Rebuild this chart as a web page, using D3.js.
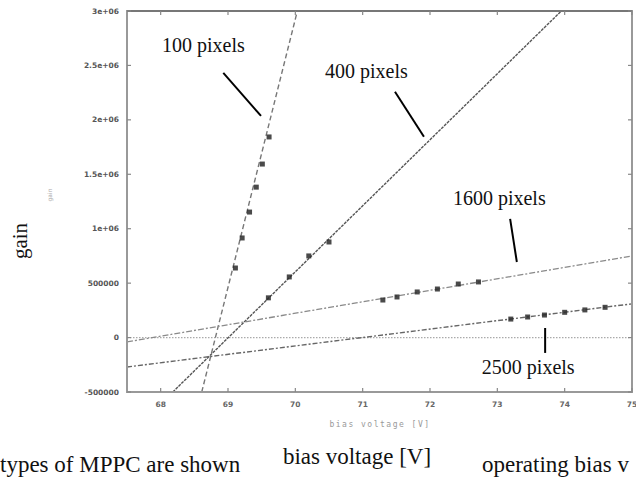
<!DOCTYPE html>
<html>
<head>
<meta charset="utf-8">
<script src="https://cdn.jsdelivr.net/npm/d3@7"></script>
<style>
  body { margin: 0; background: #fff; }
  svg { display: block; }
</style>
</head>
<body>
<svg id="chart" width="636" height="477"></svg>
<script>
// chart size
let width = 636;
let height = 477;
let margin = { top: 11, right: 4, bottom: 85, left: 127 };

// measured points (bias voltage [V], gain)
const pts100 = [[69.11, 639000], [69.21, 915000], [69.32, 1153000], [69.42, 1382000], [69.51, 1594000], [69.61, 1843000]];
const pts400 = [[69.6, 365000], [69.91, 557000], [70.2, 750000], [70.5, 878000]];
const pts1600 = [[71.3, 345000], [71.51, 373000], [71.81, 419000], [72.11, 446000], [72.42, 492000], [72.72, 511000]];
const pts2500 = [[73.2, 170000], [73.45, 189000], [73.7, 207000], [74.0, 232000], [74.3, 254000], [74.6, 278000]];

// fitted lines, two end points each
const fit100 = [[68.61, -500000], [70.03, 3000000]];
const fit400 = [[68.18, -500000], [73.95, 3000000]];
const fit1600 = [[67.5, -40000], [75, 750000]];
const fit2500 = [[67.5, -270000], [75, 310000]];

// ticks
const xTicks = [68, 69, 70, 71, 72, 73, 74, 75];
const yTicks = [-500000, 0, 500000, 1000000, 1500000, 2000000, 2500000, 3000000];
const yTickLabels = ["-500000", "0", "500000", "1e+06", "1.5e+06", "2e+06", "2.5e+06", "3e+06"];

// labels with pointer lines: text pos, pointer start, pointer end
const labels = [
  { text: "100 pixels", at: [68.02, 2625000], p1: [68.93, 2431000], p2: [69.49, 2036000] },
  { text: "400 pixels", at: [70.44, 2387000], p1: [71.48, 2258000], p2: [71.91, 1845000] },
  { text: "1600 pixels", at: [72.34, 1218000], p1: [73.19, 1090000], p2: [73.29, 694000] },
  { text: "2500 pixels", at: [72.77, -334000], p1: [73.71, 88000], p2: [73.71, -141000] }
];

let svg = d3.select("#chart");

let x = d3.scaleLinear().domain([67.5, 75]).range([margin.left, width - margin.right]);
let y = d3.scaleLinear().domain([-500000, 3000000]).range([height - margin.bottom, margin.top]);

svg.append("defs").append("clipPath").attr("id", "clip")
  .append("rect")
  .attr("x", margin.left).attr("y", margin.top)
  .attr("width", x.range()[1] - margin.left)
  .attr("height", y.range()[0] - margin.top);

let plot = svg.append("g").attr("clip-path", "url(#clip)");

// zero axis, dotted like gnuplot
plot.append("line")
  .attr("x1", x(67.5)).attr("x2", x(75))
  .attr("y1", y(0)).attr("y2", y(0))
  .attr("stroke", "#aaa").attr("stroke-width", 1.2)
  .attr("stroke-dasharray", "1.5,1.5");

let line = d3.line().x(d => x(d[0])).y(d => y(d[1]));

let series = [
  { fit: fit100, pts: pts100, color: "#777", dash: "5,3", w: 1.4 },
  { fit: fit400, pts: pts400, color: "#555", dash: "3,1", w: 1.4 },
  { fit: fit1600, pts: pts1600, color: "#8a8a8a", dash: "6,2,2,2", w: 1.3 },
  { fit: fit2500, pts: pts2500, color: "#666", dash: "5,2,2,2", w: 1.4 }
];

series.forEach(s => {
  plot.append("path")
    .datum(s.fit)
    .attr("d", line)
    .attr("fill", "none")
    .attr("stroke", s.color)
    .attr("stroke-width", s.w)
    .attr("stroke-dasharray", s.dash);

  plot.selectAll(null)
    .data(s.pts)
    .enter()
    .append("rect")
    .attr("x", d => x(d[0]) - 2.5)
    .attr("y", d => y(d[1]) - 2.5)
    .attr("width", 5)
    .attr("height", 5)
    .attr("fill", "#2a2a2a")
    .attr("opacity", 0.85);
});

// frame
let x0 = margin.left, x1 = width - margin.right;
let y0 = margin.top, y1 = height - margin.bottom;
svg.append("rect")
  .attr("x", x0).attr("y", y0)
  .attr("width", x1 - x0).attr("height", y1 - y0)
  .attr("fill", "none").attr("stroke", "#999").attr("stroke-width", 2);
svg.append("line")
  .attr("x1", x0).attr("x2", x1).attr("y1", y0).attr("y2", y0)
  .attr("stroke", "#777").attr("stroke-width", 2);

// ticks on all four sides, pointing in
let tickG = svg.append("g").attr("stroke", "#888").attr("stroke-width", 1.2);
xTicks.forEach(v => {
  tickG.append("line").attr("x1", x(v)).attr("x2", x(v)).attr("y1", y1).attr("y2", y1 - 4);
  tickG.append("line").attr("x1", x(v)).attr("x2", x(v)).attr("y1", y0).attr("y2", y0 + 4);
});
yTicks.forEach(v => {
  tickG.append("line").attr("x1", x0).attr("x2", x0 + 4).attr("y1", y(v)).attr("y2", y(v));
  tickG.append("line").attr("x1", x1).attr("x2", x1 - 4).attr("y1", y(v)).attr("y2", y(v));
});

// small gnuplot tick labels
svg.append("g")
  .selectAll("text")
  .data(xTicks)
  .enter()
  .append("text")
  .attr("x", d => x(d))
  .attr("y", y1 + 15)
  .attr("text-anchor", "middle")
  .attr("font-family", "DejaVu Sans")
  .attr("font-size", 7.5)
  .attr("font-weight", "bold")
  .attr("fill", "#666")
  .text(d => d);

svg.append("g")
  .selectAll("text")
  .data(yTicks)
  .enter()
  .append("text")
  .attr("x", x0 - 8)
  .attr("y", d => y(d) + 2.5)
  .attr("text-anchor", "end")
  .attr("font-family", "DejaVu Sans")
  .attr("font-size", 7.5)
  .attr("font-weight", "bold")
  .attr("fill", "#555")
  .text((d, i) => yTickLabels[i]);

// small gnuplot axis titles
svg.append("text")
  .attr("x", 380).attr("y", 427)
  .attr("text-anchor", "middle")
  .attr("font-family", "DejaVu Sans Mono")
  .attr("font-size", 8)
  .attr("letter-spacing", 1.5)
  .attr("fill", "#999")
  .text("bias voltage [V]");

svg.append("text")
  .attr("transform", "translate(52,195) rotate(-90)")
  .attr("text-anchor", "middle")
  .attr("font-family", "DejaVu Sans")
  .attr("font-size", 6)
  .attr("fill", "#aaa")
  .text("gain");

// curve labels and pointers
let serif = "Liberation Serif, Times New Roman, serif";
labels.forEach(l => {
  svg.append("text")
    .attr("x", x(l.at[0])).attr("y", y(l.at[1]))
    .attr("font-family", serif)
    .attr("font-size", 20)
    .attr("fill", "#111")
    .text(l.text);
  svg.append("line")
    .attr("x1", x(l.p1[0])).attr("y1", y(l.p1[1]))
    .attr("x2", x(l.p2[0])).attr("y2", y(l.p2[1]))
    .attr("stroke", "#000").attr("stroke-width", 2);
});

// caption text from the page underneath
svg.append("text")
  .attr("x", 0).attr("y", 472)
  .attr("font-family", serif).attr("font-size", 23).attr("fill", "#111")
  .text("types of MPPC are shown");
svg.append("text")
  .attr("x", 482).attr("y", 472)
  .attr("font-family", serif).attr("font-size", 23).attr("fill", "#111")
  .text("operating bias v");
svg.append("rect")
  .attr("x", 272).attr("y", 436).attr("width", 206).attr("height", 41)
  .attr("fill", "#fff");

// large axis titles
svg.append("text")
  .attr("x", 357).attr("y", 464)
  .attr("text-anchor", "middle")
  .attr("font-family", serif).attr("font-size", 23).attr("fill", "#111")
  .text("bias voltage [V]");

svg.append("text")
  .attr("transform", "translate(27,241) rotate(-90)")
  .attr("text-anchor", "middle")
  .attr("font-family", serif).attr("font-size", 21).attr("fill", "#111")
  .text("gain");
</script>
</body>
</html>
